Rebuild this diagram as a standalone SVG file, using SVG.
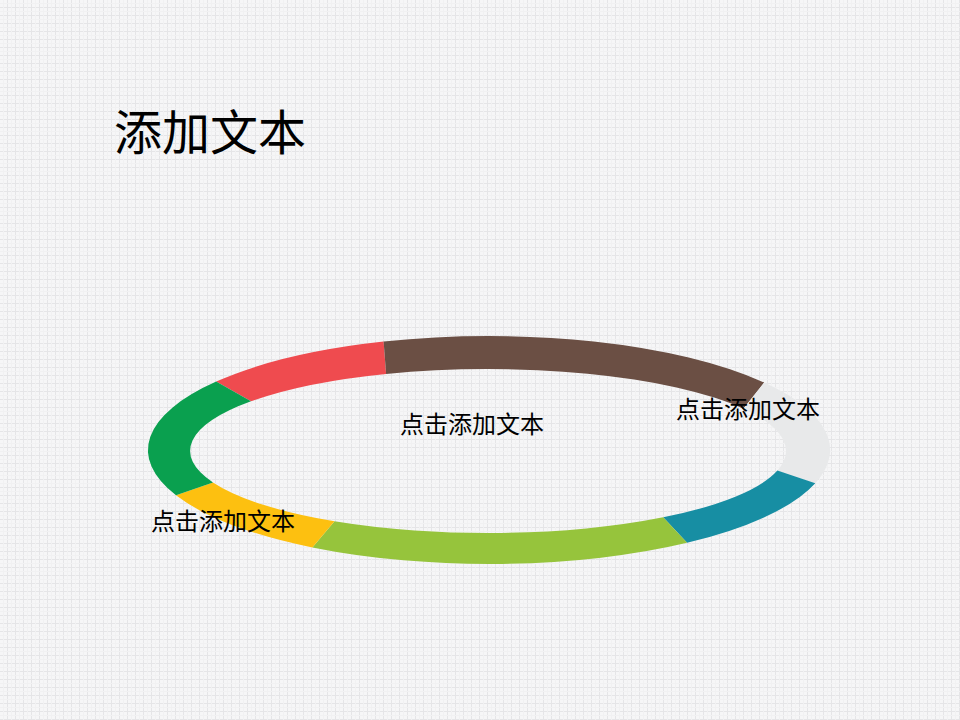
<svg xmlns="http://www.w3.org/2000/svg" width="960" height="720" viewBox="0 0 960 720">
  <defs>
    <pattern id="grid" width="8" height="8" patternUnits="userSpaceOnUse">
      <rect width="8" height="8" fill="#f6f6f7"/>
      <rect x="0" y="7" width="8" height="1" fill="#e5e5e7"/>
      <rect x="7" y="0" width="1" height="8" fill="#e5e5e7"/>
      <rect x="0" y="3" width="8" height="1" fill="#f1f1f2"/>
      <rect x="3" y="0" width="1" height="8" fill="#f1f1f2"/>
    </pattern>
  </defs>
  <style>
    .lbl { font-family: "Noto Sans CJK SC", "Noto Sans", sans-serif; font-size: 24px; fill: #000000; }
    .title { font-family: "Noto Sans CJK SC", "Noto Sans", sans-serif; font-size: 48px; fill: #000000; }
  </style>
  <rect width="960" height="720" fill="url(#grid)"/>

  <g id="title"><text class="title" x="114" y="150">添加文本</text></g>

  <g id="ring">
    <g id="seg-red"><path fill="#ef4b4f" d="M216.2,381.6 A341,114 0 0 1 383.6,341.6 L386.1,373.9 A298,82 0 0 0 251,401.3 Z"/></g>
    <g id="seg-brown"><path fill="#6b4f44" d="M383.6,341.6 A341,114 0 0 1 764.2,382.6 L743.4,408.8 A298,82 0 0 0 386.1,373.9 Z"/></g>
    <g id="seg-white"><path fill="#e8e9ea" d="M764.2,382.6 A341,114 0 0 1 815.3,483.2 L777.4,470.6 A298,82 0 0 0 743.4,408.8 Z"/></g>
    <g id="seg-teal"><path fill="#178ea3" d="M815.3,483.2 A341,114 0 0 1 687.1,542.8 L663.2,517.3 A298,82 0 0 0 777.4,470.6 Z"/></g>
    <g id="seg-lightgreen"><path fill="#96c43c" d="M687.1,542.8 A341,114 0 0 1 312.4,547.5 L334.5,521.3 A298,82 0 0 0 663.2,517.3 Z"/></g>
    <g id="seg-yellow"><path fill="#fdc010" d="M312.4,547.5 A341,114 0 0 1 176,495.3 L213,482.5 A298,82 0 0 0 334.5,521.3 Z"/></g>
    <g id="seg-green"><path fill="#0aa04f" d="M176,495.3 A341,114 0 0 1 216.2,381.6 L251,401.3 A298,82 0 0 0 213,482.5 Z"/></g>
  </g>

  <g id="label-center"><text class="lbl" x="400" y="433">点击添加文本</text></g>
  <g id="label-right"><text class="lbl" x="676" y="418">点击添加文本</text></g>
  <g id="label-left"><text class="lbl" x="151" y="530">点击添加文本</text></g>
</svg>
